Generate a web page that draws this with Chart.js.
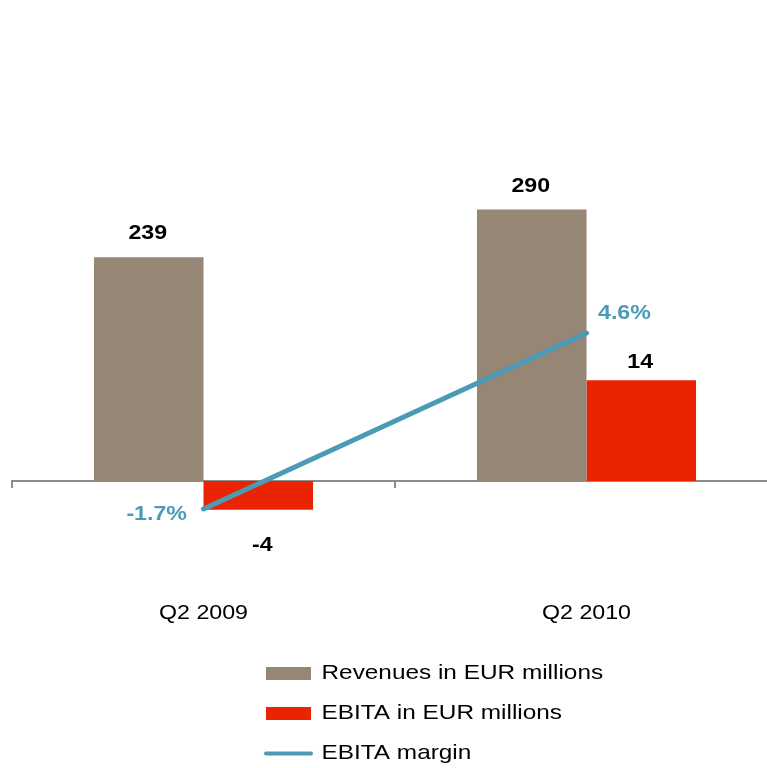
<!DOCTYPE html>
<html>
<head>
<meta charset="utf-8">
<script src="https://cdn.jsdelivr.net/npm/chart.js@4.4.1/dist/chart.umd.min.js"></script>
<style>
  html, body { margin: 0; padding: 0; overflow: hidden; background: #ffffff; width: 767px; height: 768px; }
  canvas { display: block; }
</style>
</head>
<body>
<canvas id="c" width="778" height="768"></canvas>
<script>
// ---- data ----
const categories = ['Q2 2009', 'Q2 2010'];
const revenues = [239, 290];
const ebita = [-4, 14];
const ebitaMargin = [-1.7, 4.6];
const seriesNames = ['Revenues in EUR millions', 'EBITA in EUR millions', 'EBITA margin'];

// ---- styles ----
const FONT = '"Liberation Sans", Arial, Helvetica, sans-serif';
const COL_REV = '#958676';
const COL_EBITA = '#EA2300';
const COL_LINE = '#4B9BB7';
const COL_AXIS = '#8C8C8C';
const TEXT_STRETCH = 1.16;   // the reference lettering is horizontally wide

// axis ranges (chosen so that zero of the bar axes sits on the category axis line)
const revRange = [-127.14, 407.05];
const ebitaRange = [-16.53, 52.92];
const marginRange = [-4.957, 12.94];

const LEGEND_X = 266, LEGEND_ROW1_Y = 663, LEGEND_PAD = 19;

const canvas = document.getElementById('c');
const ctx0 = canvas.getContext('2d');
const protoFill = CanvasRenderingContext2D.prototype.fillText;
ctx0.fillText = function (text, x, y, maxWidth) {
  this.save();
  this.translate(x, y);
  this.scale(TEXT_STRETCH, 1);
  if (maxWidth !== undefined) protoFill.call(this, text, 0, 0, maxWidth / TEXT_STRETCH);
  else protoFill.call(this, text, 0, 0);
  this.restore();
};

const valueLabels = {
  id: 'valueLabels',
  afterDatasetsDraw(chart) {
    const ctx = chart.ctx;
    ctx.save();
    ctx.font = 'bold 20px ' + FONT;
    ctx.textBaseline = 'middle';
    chart.data.datasets.forEach((ds, di) => {
      const meta = chart.getDatasetMeta(di);
      meta.data.forEach((el, i) => {
        const v = ds.data[i];
        if (ds.type === 'line') {
          ctx.fillStyle = COL_LINE;
          const txt = v.toFixed(1) + '%';
          if (v < 0) { ctx.textAlign = 'right'; ctx.fillText(txt, el.x - 16.5, el.y + 5); }
          else { ctx.textAlign = 'left'; ctx.fillText(txt, el.x + 11.5, el.y - 19.5); }
        } else {
          ctx.fillStyle = '#000000';
          ctx.textAlign = 'center';
          const txt = String(v);
          const off = di === 1 ? [36, -18] : [29, -23.5];
          if (v < 0) ctx.fillText(txt, el.x + 4, el.y + off[0]);
          else ctx.fillText(txt, el.x - 1, el.y + off[1]);
        }
      });
    });
    ctx.restore();
  }
};

const legendPlacer = {
  id: 'legendPlacer',
  afterLayout(chart) {
    const lg = chart.legend;
    if (!lg) return;
    const pad = lg.options.labels.padding;
    lg.left = LEGEND_X - pad;
    lg.top = LEGEND_ROW1_Y - pad;
    lg.right = chart.width;
    lg.bottom = chart.height + 200;
    lg.width = lg.right - lg.left;
    lg.height = lg.bottom - lg.top;
  }
};

new Chart(canvas, {
  data: {
    labels: categories,
    datasets: [
      { type: 'bar', label: seriesNames[0], data: revenues, yAxisID: 'y',
        backgroundColor: COL_REV, borderWidth: 0, barPercentage: 1.0, categoryPercentage: 0.572 },
      { type: 'bar', label: seriesNames[1], data: ebita, yAxisID: 'y1',
        backgroundColor: COL_EBITA, borderWidth: 0, barPercentage: 1.0, categoryPercentage: 0.572 },
      { type: 'line', label: seriesNames[2], data: ebitaMargin, yAxisID: 'y2', order: -1,
        borderColor: COL_LINE, backgroundColor: COL_LINE, borderWidth: 5, borderCapStyle: 'round',
        pointRadius: 0, pointHoverRadius: 0, fill: false, tension: 0 }
    ]
  },
  options: {
    responsive: false,
    devicePixelRatio: 1,
    animation: false,
    layout: { padding: { left: 12, right: 0, top: 100, bottom: 168 } },
    scales: {
      x: {
        position: { y: 0 },
        offset: true,
        grid: { display: true, drawOnChartArea: false, drawTicks: true, tickLength: 6,
                color: COL_AXIS, lineWidth: 2, offset: true },
        border: { display: true, color: COL_AXIS, width: 2 },
        ticks: { padding: 114, color: '#000000', font: { size: 20, family: FONT }, maxRotation: 0 }
      },
      y: { type: 'linear', display: false, min: revRange[0], max: revRange[1] },
      y1: { type: 'linear', display: false, min: ebitaRange[0], max: ebitaRange[1] },
      y2: { type: 'linear', display: false, min: marginRange[0], max: marginRange[1] }
    },
    plugins: {
      tooltip: { enabled: false },
      title: { display: false },
      legend: {
        display: true,
        position: 'chartArea',
        align: 'start',
        labels: {
          usePointStyle: true,
          pointStyleWidth: 45,
          boxHeight: 13,
          padding: LEGEND_PAD,
          color: '#000000',
          font: { size: 21, family: FONT },
          generateLabels(chart) {
            return chart.data.datasets.map((ds, i) => {
              const isLine = ds.type === 'line';
              return {
                text: ds.label,
                fillStyle: isLine ? ds.borderColor : ds.backgroundColor,
                strokeStyle: isLine ? ds.borderColor : ds.backgroundColor,
                lineWidth: isLine ? 4 : 0,
                lineCap: 'round',
                pointStyle: isLine ? 'line' : 'rect',
                fontColor: '#000000',
                hidden: false,
                datasetIndex: i
              };
            });
          }
        }
      }
    }
  },
  plugins: [valueLabels, legendPlacer]
});
</script>
</body>
</html>
